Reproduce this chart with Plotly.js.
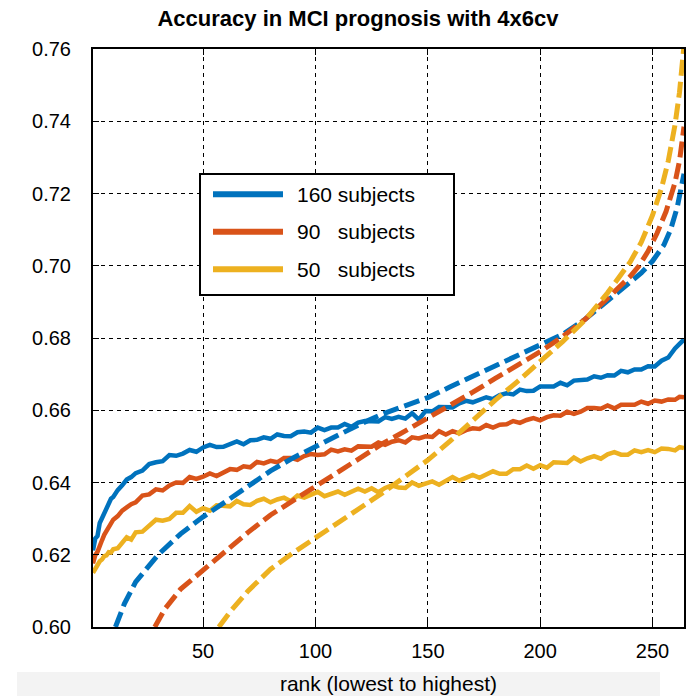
<!DOCTYPE html>
<html>
<head>
<meta charset="utf-8">
<script src="https://cdn.plot.ly/plotly-3.0.1.min.js"></script>
<style>html,body{margin:0;padding:0;background:#fff;}#chart{width:688px;height:696px;}</style>
</head>
<body>
<div id="chart"></div>
<script>
// ---- data ----
const seriesNames = ["160 subjects", "90\u00a0\u00a0\u00a0subjects", "50\u00a0\u00a0\u00a0subjects"];
const seriesColors = ["#0072BD", "#D95319", "#EDB120"];

// ranks for the measured (noisy) curves
const rankSolid = [1,2,3,4,5,6,7,8,9,10,12,14,16,18,20,23,26,29,32,35,38,41,44,47,50,53,56,59,62,65,68,71,74,77,80,83,86,89,92,95,98,101,104,107,110,113,116,119,122,125,128,131,134,137,140,143,146,149,152,155,158,161,164,167,170,173,176,179,182,185,188,191,194,197,200,203,206,209,212,215,218,221,224,227,230,233,236,239,242,245,248,251,254,257,260,262,264];

const acc160 = [0.6212,0.6245,0.6252,0.6288,0.6301,0.6314,0.6333,0.6340,0.6355,0.6360,0.6379,0.6392,0.6408,0.6415,
  0.6426,0.6433,0.6451,0.6456,0.6459,0.6476,0.6474,0.6480,0.6490,0.6485,0.6497,0.6504,0.6498,0.6499,0.6507,0.6514,0.6506,0.6517,0.6518,0.6525,0.6521,0.6533,0.6529,0.6528,0.6539,0.6541,0.6538,0.6552,0.6545,0.6552,0.6552,0.6562,0.6554,0.6566,0.6570,0.6568,0.6569,0.6581,0.6576,0.6582,0.6577,0.6592,0.6574,0.6598,0.6597,0.6609,0.6607,0.6608,0.6619,0.6626,0.6622,0.6628,0.6636,0.6631,0.6642,0.6647,0.6644,0.6657,0.6653,0.6654,0.6666,0.6666,0.6666,0.6676,0.6669,0.6682,0.6684,0.6685,0.6694,0.6690,0.6697,0.6696,0.6709,0.6705,0.6713,0.6713,0.6722,0.6721,0.6737,0.6746,0.6771,0.6782,0.6796];

const acc90 = [0.6176,0.6199,0.6208,0.6229,0.6240,0.6255,0.6265,0.6276,0.6284,0.6297,0.6307,0.6322,0.6331,0.6340,
  0.6345,0.6364,0.6367,0.6381,0.6378,0.6392,0.6400,0.6399,0.6415,0.6410,0.6416,0.6425,0.6418,0.6429,0.6437,0.6435,0.6445,0.6442,0.6457,0.6453,0.6460,0.6456,0.6468,0.6468,0.6463,0.6473,0.6479,0.6476,0.6478,0.6491,0.6486,0.6492,0.6488,0.6500,0.6500,0.6499,0.6511,0.6504,0.6513,0.6517,0.6511,0.6525,0.6522,0.6528,0.6526,0.6542,0.6533,0.6542,0.6536,0.6545,0.6550,0.6548,0.6559,0.6552,0.6560,0.6561,0.6570,0.6565,0.6573,0.6578,0.6572,0.6581,0.6586,0.6585,0.6596,0.6590,0.6596,0.6606,0.6606,0.6604,0.6613,0.6605,0.6615,0.6616,0.6615,0.6624,0.6618,0.6627,0.6624,0.6630,0.6629,0.6637,0.6636];

const acc50 = [0.6150,0.6162,0.6171,0.6182,0.6187,0.6196,0.6198,0.6207,0.6206,0.6215,0.6218,0.6234,0.6248,0.6242,
  0.6262,0.6264,0.6282,0.6297,0.6294,0.6299,0.6316,0.6316,0.6335,0.6319,0.6329,0.6322,0.6337,0.6337,0.6334,0.6349,0.6340,0.6338,0.6349,0.6355,0.6345,0.6353,0.6358,0.6348,0.6364,0.6358,0.6365,0.6374,0.6362,0.6367,0.6375,0.6366,0.6376,0.6383,0.6375,0.6384,0.6373,0.6385,0.6392,0.6386,0.6385,0.6400,0.6391,0.6398,0.6403,0.6394,0.6406,0.6415,0.6405,0.6412,0.6421,0.6413,0.6423,0.6431,0.6424,0.6424,0.6437,0.6437,0.6447,0.6438,0.6448,0.6441,0.6456,0.6456,0.6454,0.6469,0.6458,0.6467,0.6473,0.6466,0.6478,0.6484,0.6477,0.6477,0.6489,0.6484,0.6490,0.6484,0.6494,0.6493,0.6489,0.6498,0.6495];

// smooth (dashed) curves
const rankFit160 = [11,15,20,25,30,40,50,60,70,80,90,100,110,120,130,140,150,160,170,180,190,200,210,220,230,240,245,250,255,258,261,264];
const fit160 = [0.6000,0.6065,0.6125,0.6165,0.6200,0.6258,0.6305,0.6347,0.6390,0.6432,0.6468,0.6500,0.6532,0.6562,0.6590,0.6612,0.6635,0.6665,0.6694,0.6722,0.6750,0.6778,0.6810,0.6852,0.6905,0.6955,0.6980,0.7013,0.7057,0.7099,0.7162,0.7255];

const rankFit90 = [28.5,33,40,50,60,70,80,90,100,110,120,130,140,150,160,170,180,190,200,210,220,230,240,244,248,252,256,260,262,264];
const fit90 = [0.6000,0.6050,0.6105,0.6158,0.6210,0.6262,0.6310,0.6350,0.6388,0.6430,0.6470,0.6508,0.6543,0.6578,0.6614,0.6650,0.6688,0.6725,0.6762,0.6804,0.6852,0.6910,0.6970,0.7000,0.7040,0.7090,0.7150,0.7230,0.7290,0.7385];

const rankFit50 = [57,62,70,80,90,100,110,120,130,140,150,160,170,180,190,200,210,220,230,240,245,250,254,257,260,262,264];
const fit50 = [0.6000,0.6042,0.6100,0.6160,0.6205,0.6248,0.6290,0.6330,0.6372,0.6415,0.6462,0.6515,0.6572,0.6628,0.6680,0.6735,0.6790,0.6850,0.6925,0.7010,0.7065,0.7140,0.7215,0.7290,0.7390,0.7480,0.7610];

const xTicks = [50,100,150,200,250];

// ---- traces ----
const solids = [acc160, acc90, acc50];
const fitsX = [rankFit160, rankFit90, rankFit50];
const fitsY = [fit160, fit90, fit50];
const traces = [];
solids.forEach((ys, i) => traces.push({
  x: rankSolid, y: ys, type: 'scatter', mode: 'lines', name: seriesNames[i],
  line: {color: seriesColors[i], width: 4.5}, showlegend: false, hoverinfo: 'skip'
}));
fitsY.forEach((ys, i) => traces.push({
  x: fitsX[i], y: ys, type: 'scatter', mode: 'lines', name: seriesNames[i] + ' (fit)',
  line: {color: seriesColors[i], width: 5, dash: '16px,6px'},
  showlegend: false, hoverinfo: 'skip'
}));

// ---- manual legend (MATLAB style box) ----
const px = v => (v - 93) / 591;
const py = v => (627 - v) / 578;
const shapes = [
  {type: 'rect', xref: 'paper', yref: 'paper', x0: px(17), x1: px(660), y0: py(696), y1: py(672),
   fillcolor: '#f3f3f3', line: {width: 0}, layer: 'below'},
  {type: 'rect', xref: 'paper', yref: 'paper', x0: px(200), x1: px(454), y0: py(295), y1: py(174),
   fillcolor: '#ffffff', line: {color: '#000', width: 2}, layer: 'above'}
];
const annotations = [];
const rowY = [194.3, 231.7, 269.3];
seriesNames.forEach((n, i) => {
  shapes.push({type: 'line', xref: 'paper', yref: 'paper', x0: px(213), x1: px(283), y0: py(rowY[i]), y1: py(rowY[i]),
    line: {color: seriesColors[i], width: 6}, layer: 'above'});
  annotations.push({xref: 'paper', yref: 'paper', x: px(295), y: py(rowY[i]), xanchor: 'left', yanchor: 'middle',
    text: n, showarrow: false, font: {family: 'Liberation Sans, Arial, sans-serif', size: 21, color: '#000'}});
});

const font = {family: 'Liberation Sans, Arial, sans-serif', color: '#000'};
const layout = {
  width: 688, height: 696,
  margin: {l: 93, r: 4, t: 49, b: 69, pad: 0},
  paper_bgcolor: '#fff', plot_bgcolor: '#fff',
  font: font,
  showlegend: false,
  title: {text: '<b>Accuracy in MCI prognosis with 4x6cv</b>', font: {family: font.family, size: 22, color: '#000'},
          xref: 'container', x: 358 / 688, xanchor: 'center', yref: 'container', y: 1 - 18 / 696, yanchor: 'middle'},
  xaxis: {
    range: [1, 264], tickvals: xTicks, ticktext: xTicks.map(String),
    showgrid: true, gridcolor: '#000', gridwidth: 1, griddash: '4px,4px',
    showline: true, linecolor: '#000', linewidth: 2, mirror: 'ticks',
    ticks: 'inside', ticklen: 6, tickcolor: '#000', tickwidth: 1,
    tickfont: {family: font.family, size: 20, color: '#000'}, ticklabelstandoff: 5,
    zeroline: false,
    title: {text: 'rank (lowest to highest)', font: {family: font.family, size: 21, color: '#000'}, standoff: 15}
  },
  yaxis: {
    range: [0.60, 0.76], dtick: 0.02, tick0: 0.60, tickformat: '.2f',
    showgrid: true, gridcolor: '#000', gridwidth: 1, griddash: '4px,4px',
    showline: true, linecolor: '#000', linewidth: 2, mirror: 'ticks',
    ticks: 'inside', ticklen: 6, tickcolor: '#000', tickwidth: 1,
    tickfont: {family: font.family, size: 20, color: '#000'}, ticklabelstandoff: 16,
    zeroline: false
  },
  shapes: shapes,
  annotations: annotations
};
Plotly.newPlot('chart', traces, layout, {displayModeBar: false, staticPlot: true});
</script>
</body>
</html>
